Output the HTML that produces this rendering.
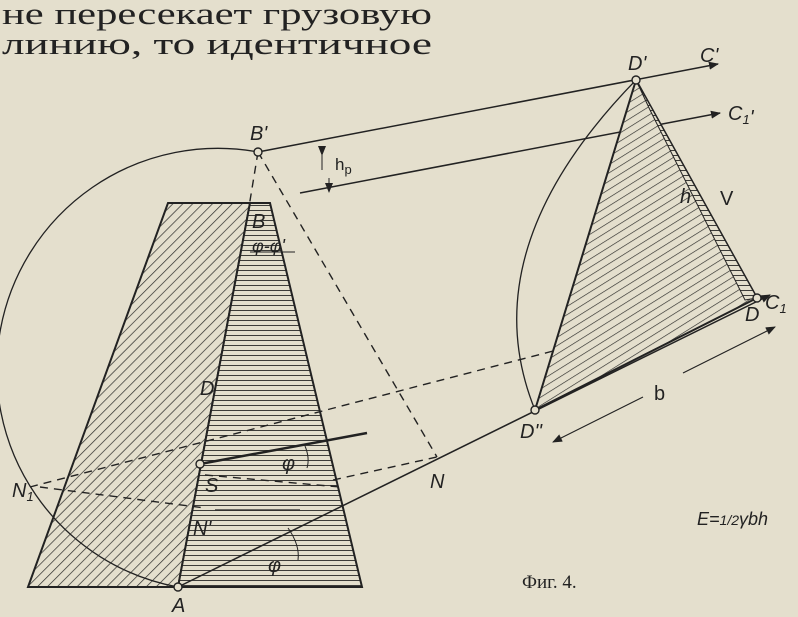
<!DOCTYPE html>
<html><head><meta charset="utf-8"><style>
html,body{margin:0;padding:0;background:#e4dfcd;}
svg{display:block;}
</style></head><body>
<svg width="798" height="617" viewBox="0 0 798 617" xmlns="http://www.w3.org/2000/svg">
<defs>
<pattern id="diag" patternUnits="userSpaceOnUse" width="7" height="7" patternTransform="rotate(-45)">
<rect width="7" height="7" fill="#e4dfcd"/><line x1="0" y1="0" x2="7" y2="0" stroke="#2a2a28" stroke-width="1.4"/>
</pattern>
<pattern id="diag2" patternUnits="userSpaceOnUse" width="7" height="7" patternTransform="rotate(-32)">
<rect width="7" height="7" fill="#e4dfcd"/><line x1="0" y1="0" x2="7" y2="0" stroke="#2a2a28" stroke-width="1.3"/>
</pattern>
<pattern id="horiz" patternUnits="userSpaceOnUse" width="8" height="5">
<rect width="8" height="5" fill="#e4dfcd"/><line x1="0" y1="0" x2="8" y2="0" stroke="#2a2a28" stroke-width="1.8"/>
</pattern>
<marker id="ar" markerWidth="10" markerHeight="8" refX="9" refY="4" orient="auto" markerUnits="userSpaceOnUse"><path d="M0,0 L10,4 L0,8 Z" fill="#222"/></marker>
</defs>
<rect width="798" height="617" fill="#e4dfcd"/>
<g font-family="Liberation Serif, serif" font-size="31" fill="#222">
<text x="2" y="24" textLength="430" lengthAdjust="spacingAndGlyphs">не пересекает грузовую</text>
<text x="2" y="54" textLength="430" lengthAdjust="spacingAndGlyphs">линию,  то  идентичное</text>
</g>
<g stroke="#222" fill="none" stroke-width="1.5">
<polygon points="168,203 250,203 178,587 28,587" fill="url(#diag)" stroke="#222" stroke-width="2"/>
<polygon points="250,203 270,203 362,587 178,587" fill="url(#horiz)" stroke="#222" stroke-width="2"/>
<path d="M258,152 A221,221 0 1 0 178,587" stroke-width="1.3"/>
<line x1="258" y1="152" x2="718" y2="64" marker-end="url(#ar)"/>
<line x1="300" y1="193" x2="720" y2="113" marker-end="url(#ar)"/>
<line x1="178" y1="587" x2="770" y2="295" marker-end="url(#ar)"/>
<line x1="322" y1="155" x2="322" y2="170" marker-start="url(#ar)" stroke-width="1"/>
<line x1="329" y1="178" x2="329" y2="192" marker-end="url(#ar)" stroke-width="1"/>
<g stroke-dasharray="8,6" stroke-width="1.4">
<line x1="258" y1="152" x2="437" y2="457"/>
<line x1="258" y1="152" x2="246" y2="225"/>
<line x1="30" y1="487" x2="757" y2="298"/>
<line x1="40" y1="487" x2="205" y2="508"/>
<line x1="205" y1="475" x2="340" y2="487"/>
<line x1="333" y1="480" x2="437" y2="457"/>
</g>
<line x1="200" y1="464" x2="367" y2="433" stroke-width="2.5"/>
<path d="M305,446 Q310,458 307,468" stroke-width="1"/>
<path d="M288,528 Q300,545 298,560" stroke-width="1"/>
<path d="M250,252 L295,252" stroke-width="1"/>
<line x1="215" y1="510" x2="300" y2="510" stroke-width="1.2"/>
<path d="M636,80 Q470,250 535,410" stroke-width="1.3"/>
<polygon points="636,80 757,298 535,410" fill="url(#diag2)" stroke-width="2"/>
<polygon points="636,80 757,298 745,300 650,110" fill="url(#horiz)" stroke-width="1"/>
<line x1="643" y1="397" x2="553" y2="442" marker-end="url(#ar)" stroke-width="1.1"/>
<line x1="683" y1="373" x2="775" y2="327" marker-end="url(#ar)" stroke-width="1.1"/>
</g>
<g fill="#e4dfcd" stroke="#222" stroke-width="1.4">
<circle cx="258" cy="152" r="4"/><circle cx="178" cy="587" r="4"/><circle cx="200" cy="464" r="4"/>
<circle cx="636" cy="80" r="4"/><circle cx="535" cy="410" r="4"/><circle cx="757" cy="298" r="4"/>
</g>
<g font-family="Liberation Sans, sans-serif" font-size="20" font-style="italic" fill="#222">
<text x="250" y="140">B'</text>
<text x="252" y="228">B</text>
<text x="252" y="252" font-size="18">φ-φ'</text>
<text x="335" y="170" font-size="17" font-style="normal">h<tspan font-size="13" dy="4">p</tspan></text>
<text x="200" y="395">D</text>
<text x="12" y="497">N<tspan font-size="13" dy="4">1</tspan></text>
<text x="205" y="492">S</text>
<text x="193" y="535">N'</text>
<text x="282" y="470">φ</text>
<text x="268" y="572">φ</text>
<text x="430" y="488">N</text>
<text x="172" y="612">A</text>
<text x="628" y="70">D'</text>
<text x="700" y="62">C'</text>
<text x="728" y="120">C<tspan font-size="13" dy="4">1</tspan>'</text>
<text x="680" y="203">h</text>
<text x="720" y="205" font-style="normal">V</text>
<text x="745" y="321">D</text>
<text x="765" y="309">C<tspan font-size="13" dy="4">1</tspan></text>
<text x="520" y="438">D''</text>
<text x="654" y="400" font-style="normal">b</text>
<text x="697" y="525" font-size="18">E=<tspan font-size="14">1/2</tspan>γbh</text>
</g>
<text x="522" y="588" font-family="Liberation Serif, serif" font-size="19" fill="#222">Фиг. 4.</text>
</svg>
</body></html>
